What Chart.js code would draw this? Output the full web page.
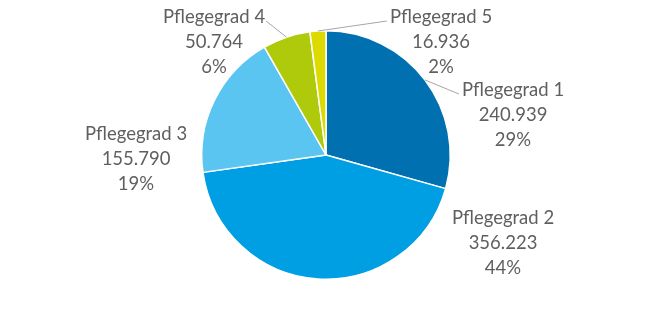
<!DOCTYPE html>
<html>
<head>
<meta charset="utf-8">
<script src="https://cdn.jsdelivr.net/npm/chart.js@4/dist/chart.umd.min.js"></script>
<style>
  html, body { margin: 0; padding: 0; background: #fff; }
  #wrap { width: 654px; height: 310px; }
</style>
</head>
<body>
<div id="wrap"><canvas id="pie" width="654" height="310"></canvas></div>
<script>
const categories = ['Pflegegrad 1', 'Pflegegrad 2', 'Pflegegrad 3', 'Pflegegrad 4', 'Pflegegrad 5'];
const values = [240939, 356223, 155790, 50764, 16936];
const percentLabels = ['29%', '44%', '19%', '6%', '2%'];
const colors = ['#0070B0', '#009FE3', '#5BC5F2', '#AFCA0B', '#DDDA00'];

// label block centre (first line) relative to pie centre, plus leader line side
const labelPlace = [
  { dx: 187, dy: -65, leader: 'left' },
  { dx: 177, dy: 63, leader: null },
  { dx: -190, dy: -21, leader: null },
  { dx: -112, dy: -138, leader: 'right' },
  { dx: 115, dy: -138, leader: 'left' }
];

const fmt = n => n.toLocaleString('de-DE');

const pieLabels = {
  id: 'pieLabels',
  afterDatasetsDraw(chart) {
    const ctx = chart.ctx;
    const meta = chart.getDatasetMeta(0);
    ctx.save();
    ctx.font = '18.5px Lato';
    ctx.textAlign = 'center';
    ctx.textBaseline = 'middle';
    meta.data.forEach((arc, i) => {
      const p = labelPlace[i];
      const x = arc.x + p.dx;
      const y = arc.y + p.dy;
      const lines = [categories[i], fmt(values[i]), percentLabels[i]];
      if (p.leader) {
        const mid = (arc.startAngle + arc.endAngle) / 2;
        const sx = arc.x + Math.cos(mid) * arc.outerRadius;
        const sy = arc.y + Math.sin(mid) * arc.outerRadius;
        const w = ctx.measureText(lines[0]).width;
        const ex = p.leader === 'left' ? x - w / 2 - 3 : x + w / 2 + 1;
        const ey = y + 4;
        ctx.strokeStyle = '#a6a6a6';
        ctx.lineWidth = 1;
        ctx.beginPath();
        ctx.moveTo(sx, sy);
        ctx.lineTo(ex, ey);
        ctx.stroke();
      }
      ctx.fillStyle = '#5f5f5f';
      lines.forEach((t, k) => ctx.fillText(t, x, y + k * 25));
    });
    ctx.restore();
  }
};

new Chart(document.getElementById('pie'), {
  type: 'pie',
  data: {
    labels: categories,
    datasets: [{
      data: values,
      backgroundColor: colors,
      borderColor: '#ffffff',
      borderWidth: 1.5
    }]
  },
  options: {
    responsive: false,
    animation: false,
    layout: { padding: { top: 30, bottom: 30, left: 0, right: 2 } },
    plugins: {
      legend: { display: false },
      tooltip: { enabled: false }
    }
  },
  plugins: [pieLabels]
});
</script>
</body>
</html>
